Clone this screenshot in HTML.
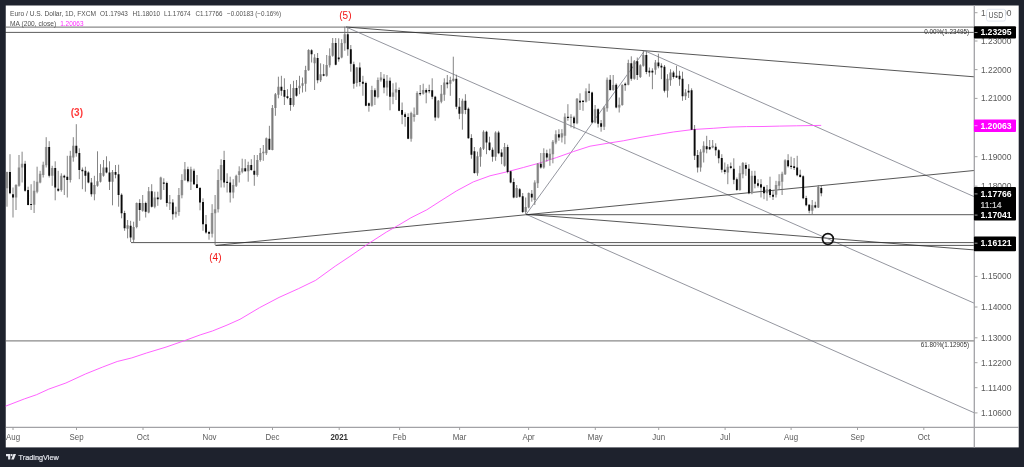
<!DOCTYPE html>
<html lang="en"><head><meta charset="utf-8"><title>EURUSD chart</title>
<style>html,body{margin:0;padding:0;background:#1e222d;overflow:hidden}svg{display:block;will-change:transform}text{font-family:"Liberation Sans", "DejaVu Sans", sans-serif}</style></head><body>
<svg width="1024" height="467" viewBox="0 0 1024 467">
<rect x="0" y="0" width="1024" height="467" fill="#1e222d"/>
<rect x="5.5" y="5.5" width="1013.2" height="441.9" fill="#ffffff"/>
<defs><clipPath id="pane"><rect x="5" y="5" width="969" height="422"/></clipPath></defs>
<g clip-path="url(#pane)">
<line x1="5" x2="974" y1="27.1" y2="27.1" stroke="#8a8a8a" stroke-width="1.3"/>
<line x1="5" x2="974" y1="340.8" y2="340.8" stroke="#8a8a8a" stroke-width="1.3"/>
<line x1="5" x2="974" y1="32.4" y2="32.4" stroke="#333" stroke-width="0.8"/>
<line x1="346.0" y1="27.0" x2="974.0" y2="76.8" stroke="#2c2c2c" stroke-width="0.80"/>
<line x1="526.2" y1="214.3" x2="974.0" y2="249.9" stroke="#2c2c2c" stroke-width="0.80"/>
<line x1="346.0" y1="27.0" x2="974.0" y2="303.1" stroke="#787b86" stroke-width="0.80"/>
<line x1="644.6" y1="50.7" x2="974.0" y2="196.6" stroke="#787b86" stroke-width="0.80"/>
<line x1="526.2" y1="214.3" x2="974.0" y2="412.7" stroke="#787b86" stroke-width="0.80"/>
<line x1="526.2" y1="214.3" x2="644.6" y2="50.7" stroke="#787b86" stroke-width="0.80"/>
<line x1="215.6" y1="245.4" x2="974.0" y2="170.5" stroke="#2c2c2c" stroke-width="0.80"/>
<line x1="526.2" y1="214.7" x2="974.0" y2="214.7" stroke="#2c2c2c" stroke-width="0.80"/>
<line x1="131.0" y1="242.6" x2="974.0" y2="242.6" stroke="#2c2c2c" stroke-width="0.80"/>
<line x1="215.6" y1="245.4" x2="974.0" y2="245.4" stroke="#2c2c2c" stroke-width="0.80"/>
<polyline fill="none" stroke="#ff50ff" stroke-width="0.9" points="5.0,406.4 24.4,398.9 36.6,394.7 48.8,389.1 65.9,383.0 85.4,374.0 102.5,367.1 117.2,361.5 131.8,357.9 146.5,353.0 166.0,347.1 185.5,340.3 200.2,334.9 212.4,331.0 227.0,325.1 240.0,319.3 259.5,307.7 279.1,297.4 298.6,288.6 315.7,280.3 335.2,266.2 349.9,256.4 369.4,243.0 386.5,232.0 398.7,225.1 410.9,217.8 426.8,209.8 440.0,201.3 456.7,190.8 473.3,181.9 490.0,175.8 507.5,171.7 523.3,167.5 540.0,162.9 556.7,157.5 573.3,151.6 590.0,146.2 609.2,143.0 623.3,140.8 640.0,137.5 656.7,134.7 673.3,132.0 693.0,129.5 713.2,128.3 729.8,127.1 746.4,126.6 763.0,126.5 779.7,126.1 796.3,125.8 821.2,125.4"/>
<path d="M5.67 172.0h2.6V188.3h-2.6ZM14.72 185.0h2.6V197.5h-2.6ZM17.73 167.5h2.6V185.8h-2.6ZM20.75 163.7h2.6V167.5h-2.6ZM32.81 190.8h2.6V204.7h-2.6ZM35.83 181.7h2.6V191.7h-2.6ZM38.84 173.7h2.6V182.5h-2.6ZM41.86 164.7h2.6V175.0h-2.6ZM44.88 147.0h2.6V165.3h-2.6ZM50.91 168.0h2.6V175.8h-2.6ZM59.96 175.8h2.6V190.0h-2.6ZM69.00 155.8h2.6V180.0h-2.6ZM72.02 145.8h2.6V157.5h-2.6ZM93.13 185.0h2.6V194.2h-2.6ZM96.15 181.3h2.6V185.8h-2.6ZM99.16 173.0h2.6V181.7h-2.6ZM102.18 167.5h2.6V175.8h-2.6ZM111.23 172.0h2.6V181.7h-2.6ZM126.31 225.3h2.6V228.7h-2.6ZM132.34 227.0h2.6V239.7h-2.6ZM135.36 203.0h2.6V227.0h-2.6ZM141.39 203.0h2.6V210.8h-2.6ZM147.42 191.3h2.6V212.5h-2.6ZM153.45 197.5h2.6V206.7h-2.6ZM159.48 177.5h2.6V199.2h-2.6ZM168.53 202.0h2.6V203.7h-2.6ZM174.56 211.7h2.6V214.2h-2.6ZM177.58 195.0h2.6V212.0h-2.6ZM180.60 180.0h2.6V195.3h-2.6ZM183.61 169.2h2.6V180.3h-2.6ZM189.64 169.2h2.6V181.7h-2.6ZM210.76 213.0h2.6V233.7h-2.6ZM213.77 209.2h2.6V213.3h-2.6ZM216.79 180.0h2.6V209.2h-2.6ZM219.80 165.0h2.6V180.3h-2.6ZM231.87 185.0h2.6V192.5h-2.6ZM234.88 175.8h2.6V185.8h-2.6ZM237.90 171.3h2.6V175.0h-2.6ZM240.92 168.3h2.6V171.7h-2.6ZM246.95 165.0h2.6V171.3h-2.6ZM256.00 160.0h2.6V175.0h-2.6ZM259.01 153.0h2.6V160.0h-2.6ZM262.03 151.7h2.6V153.3h-2.6ZM265.04 138.3h2.6V153.3h-2.6ZM271.08 108.0h2.6V150.0h-2.6ZM274.09 94.2h2.6V108.0h-2.6ZM277.11 86.7h2.6V94.7h-2.6ZM292.19 88.0h2.6V105.0h-2.6ZM298.22 85.8h2.6V88.3h-2.6ZM301.24 83.3h2.6V85.8h-2.6ZM304.25 70.0h2.6V83.7h-2.6ZM307.27 50.0h2.6V70.3h-2.6ZM313.30 57.5h2.6V63.3h-2.6ZM319.33 74.2h2.6V80.3h-2.6ZM325.36 65.0h2.6V75.8h-2.6ZM328.38 55.8h2.6V65.3h-2.6ZM331.40 43.0h2.6V55.8h-2.6ZM340.44 43.0h2.6V57.5h-2.6ZM343.46 34.2h2.6V43.3h-2.6ZM355.52 67.5h2.6V83.0h-2.6ZM370.60 90.0h2.6V105.8h-2.6ZM376.64 80.0h2.6V97.0h-2.6ZM379.65 77.5h2.6V80.3h-2.6ZM385.68 80.8h2.6V87.5h-2.6ZM391.72 92.5h2.6V96.7h-2.6ZM394.73 89.2h2.6V92.5h-2.6ZM409.81 113.0h2.6V138.7h-2.6ZM412.83 114.2h2.6V117.0h-2.6ZM415.84 93.0h2.6V114.7h-2.6ZM421.88 90.0h2.6V93.7h-2.6ZM436.96 100.8h2.6V117.5h-2.6ZM439.97 93.7h2.6V101.7h-2.6ZM442.99 82.5h2.6V94.7h-2.6ZM449.02 80.0h2.6V83.7h-2.6ZM452.04 78.8h2.6V80.8h-2.6ZM461.08 100.8h2.6V113.7h-2.6ZM476.16 156.3h2.6V173.3h-2.6ZM479.18 148.3h2.6V156.7h-2.6ZM482.20 131.7h2.6V148.7h-2.6ZM494.26 132.5h2.6V156.7h-2.6ZM503.31 147.0h2.6V165.8h-2.6ZM515.37 188.0h2.6V197.5h-2.6ZM524.42 207.0h2.6V212.0h-2.6ZM527.44 193.0h2.6V207.5h-2.6ZM533.47 182.5h2.6V200.0h-2.6ZM536.48 163.7h2.6V183.3h-2.6ZM542.52 153.0h2.6V167.5h-2.6ZM548.55 153.7h2.6V160.0h-2.6ZM551.56 141.7h2.6V154.2h-2.6ZM554.58 134.2h2.6V142.5h-2.6ZM560.61 133.3h2.6V137.5h-2.6ZM563.63 116.7h2.6V135.8h-2.6ZM569.66 116.7h2.6V118.0h-2.6ZM575.69 98.7h2.6V123.3h-2.6ZM584.74 91.3h2.6V101.7h-2.6ZM593.79 109.2h2.6V122.5h-2.6ZM602.84 107.5h2.6V126.7h-2.6ZM605.85 79.7h2.6V108.3h-2.6ZM611.88 85.0h2.6V90.0h-2.6ZM617.92 104.7h2.6V107.5h-2.6ZM620.93 85.0h2.6V105.0h-2.6ZM626.96 63.0h2.6V84.7h-2.6ZM633.00 61.3h2.6V78.7h-2.6ZM639.03 65.3h2.6V77.0h-2.6ZM642.04 55.0h2.6V65.8h-2.6ZM654.11 62.5h2.6V69.7h-2.6ZM666.17 78.7h2.6V90.8h-2.6ZM669.19 72.5h2.6V80.3h-2.6ZM684.27 92.5h2.6V96.3h-2.6ZM699.35 151.7h2.6V167.5h-2.6ZM702.36 145.8h2.6V152.5h-2.6ZM711.41 145.8h2.6V147.5h-2.6ZM726.49 166.7h2.6V172.5h-2.6ZM738.56 173.3h2.6V190.0h-2.6ZM741.57 163.0h2.6V174.2h-2.6ZM750.62 175.8h2.6V193.3h-2.6ZM765.70 189.2h2.6V193.3h-2.6ZM774.75 185.0h2.6V194.7h-2.6ZM777.76 181.3h2.6V185.8h-2.6ZM780.78 173.7h2.6V181.7h-2.6ZM783.80 160.3h2.6V174.2h-2.6ZM810.94 205.3h2.6V210.8h-2.6ZM816.97 187.0h2.6V207.5h-2.6Z" fill="#a6a6a6"/>
<path d="M7.0 171.7V206.7M10.0 154.2V194.2M13.0 187.5V217.5M16.0 184.2V210.0M19.0 155.0V186.7M22.1 151.7V182.5M25.1 160.8V191.7M28.1 186.7V205.3M31.1 184.2V210.0M34.1 180.8V213.0M37.1 166.7V193.3M40.1 170.8V183.3M43.2 161.7V177.5M46.2 137.2V167.5M49.2 141.2V177.5M52.2 165.8V185.8M55.2 161.3V200.3M58.2 170.8V191.7M61.3 173.3V191.7M64.3 174.7V195.0M67.3 155.8V197.5M70.3 150.8V182.5M73.3 137.2V161.7M76.3 124.2V156.7M79.3 148.3V179.2M82.4 167.5V189.2M85.4 166.7V191.7M88.4 171.3V183.3M91.4 178.0V196.7M94.4 175.8V200.3M97.5 151.3V186.7M100.5 164.2V182.5M103.5 160.0V176.7M106.5 156.3V173.3M109.5 161.3V190.0M112.5 170.0V205.3M115.5 165.0V178.3M118.6 164.7V206.7M121.6 193.3V218.3M124.6 210.8V230.8M127.6 220.0V238.3M130.6 220.8V242.0M133.6 221.7V242.0M136.7 202.5V228.3M139.7 199.2V220.8M142.7 195.0V211.7M145.7 201.7V217.5M148.7 187.0V213.3M151.7 184.2V207.5M154.8 191.7V208.3M157.8 191.7V205.8M160.8 176.7V200.0M163.8 178.3V190.0M166.8 181.7V206.7M169.8 195.0V210.0M172.8 199.2V219.7M175.9 206.7V217.5M178.9 188.0V215.8M181.9 174.2V198.3M184.9 162.0V180.8M187.9 166.7V182.5M190.9 166.7V190.0M194.0 168.7V185.0M197.0 175.0V188.3M200.0 187.0V210.3M203.0 198.3V230.8M206.0 215.0V233.7M209.0 230.8V239.7M212.1 204.2V237.5M215.1 195.0V245.0M218.1 169.2V212.5M221.1 159.2V187.5M224.1 150.8V187.5M227.1 173.3V192.5M230.2 176.7V202.5M233.2 179.2V198.3M236.2 174.7V187.0M239.2 166.3V182.5M242.2 158.7V173.3M245.2 159.2V171.7M248.2 161.7V181.7M251.3 159.2V170.8M254.3 155.0V185.8M257.3 155.0V176.7M260.3 148.0V161.7M263.3 145.0V160.8M266.3 137.5V155.0M269.4 125.8V150.0M272.4 105.0V150.3M275.4 93.0V115.8M278.4 76.7V98.3M281.4 75.8V95.8M284.4 78.3V105.0M287.5 89.2V99.2M290.5 84.2V110.8M293.5 80.8V106.7M296.5 80.0V96.7M299.5 75.8V94.2M302.5 77.5V92.5M305.6 65.8V91.7M308.6 49.2V70.8M311.6 49.2V62.5M314.6 54.2V90.0M317.6 53.0V83.3M320.6 63.3V82.0M323.6 64.2V76.3M326.7 55.0V76.7M329.7 48.3V67.5M332.7 38.0V56.7M335.7 38.0V65.3M338.7 38.3V61.7M341.7 39.2V58.3M344.8 26.7V50.8M347.8 27.5V55.8M350.8 45.0V71.7M353.8 61.7V88.7M356.8 67.0V86.7M359.8 62.5V86.3M362.9 75.8V95.8M365.9 81.7V106.2M368.9 102.5V111.7M371.9 85.8V106.7M374.9 88.3V105.0M377.9 77.5V98.3M380.9 72.0V81.7M384.0 74.2V93.3M387.0 75.0V95.8M390.0 77.5V110.3M393.0 83.3V104.2M396.0 82.5V100.0M399.1 87.5V111.2M402.1 102.5V124.2M405.1 112.5V126.7M408.1 113.3V139.2M411.1 111.7V141.7M414.1 107.5V121.7M417.1 91.3V115.0M420.2 85.0V95.8M423.2 83.7V94.7M426.2 88.3V103.3M429.2 84.7V93.3M432.2 78.3V99.2M435.2 95.8V120.8M438.3 100.0V118.3M441.3 85.0V103.3M444.3 78.3V100.8M447.3 75.0V88.3M450.3 76.7V95.8M453.3 56.7V81.7M456.4 74.7V109.2M459.4 98.0V119.2M462.4 98.7V129.7M465.4 94.2V114.2M468.4 107.5V138.7M471.4 134.2V158.7M474.4 147.0V173.7M477.5 151.7V175.8M480.5 147.0V166.7M483.5 130.3V150.0M486.5 130.8V154.2M489.5 136.7V150.8M492.5 147.5V161.7M495.6 131.3V160.8M498.6 130.8V154.2M501.6 149.2V164.2M504.6 143.0V166.7M507.6 144.7V173.3M510.6 170.8V183.3M513.7 178.3V198.3M516.7 185.0V198.0M519.7 188.0V197.5M522.7 193.0V213.0M525.7 197.5V214.2M528.7 192.5V208.3M531.8 190.0V201.7M534.8 180.3V205.0M537.8 163.0V188.0M540.8 153.0V168.7M543.8 148.3V168.7M546.8 149.7V161.7M549.9 148.7V165.8M552.9 140.0V163.3M555.9 130.3V144.2M558.9 129.2V140.8M561.9 129.2V142.5M564.9 113.3V144.2M567.9 104.2V120.8M571.0 114.2V127.5M574.0 115.8V128.7M577.0 98.0V124.2M580.0 93.3V110.0M583.0 100.0V110.8M586.0 88.3V102.5M589.1 83.7V100.8M592.1 91.7V123.3M595.1 105.0V123.3M598.1 108.3V127.5M601.1 120.0V131.7M604.1 106.3V130.0M607.1 77.5V111.7M610.2 75.0V90.8M613.2 75.0V90.8M616.2 83.3V108.3M619.2 97.5V112.5M622.2 84.2V105.8M625.2 82.5V90.8M628.3 59.7V85.3M631.3 56.3V80.8M634.3 60.0V79.7M637.3 57.5V80.0M640.3 64.2V78.0M643.3 50.8V66.7M646.4 51.7V74.2M649.4 67.5V76.7M652.4 68.3V89.2M655.4 60.0V74.7M658.4 53.7V68.3M661.4 63.3V79.2M664.5 65.0V92.5M667.5 74.2V97.5M670.5 69.2V85.8M673.5 70.8V78.7M676.5 65.8V78.0M679.5 70.8V85.8M682.5 71.7V100.8M685.6 89.2V100.0M688.6 84.2V98.0M691.6 88.3V130.0M694.6 125.0V160.0M697.6 150.0V172.5M700.6 149.2V171.7M703.7 141.3V162.5M706.7 135.8V153.3M709.7 140.0V150.0M712.7 140.0V148.3M715.7 143.3V155.8M718.7 149.2V163.3M721.8 154.2V172.5M724.8 162.5V174.2M727.8 164.2V184.2M730.8 162.5V169.2M733.8 158.3V184.2M736.8 177.5V190.8M739.9 165.8V190.8M742.9 162.0V178.3M745.9 162.5V175.8M748.9 164.2V194.2M751.9 170.8V194.2M754.9 170.8V188.3M758.0 179.2V187.5M761.0 179.2V197.5M764.0 185.8V199.2M767.0 185.0V200.8M770.0 176.7V197.5M773.0 190.0V200.0M776.0 180.8V197.5M779.1 174.2V190.0M782.1 171.7V195.0M785.1 159.2V175.0M788.1 154.2V167.5M791.1 156.7V169.2M794.1 158.0V170.0M797.2 155.8V176.3M800.2 169.7V177.5M803.2 175.3V199.2M806.2 195.8V206.3M809.2 204.2V213.3M812.2 200.0V214.2M815.3 201.7V208.3M818.3 185.0V208.0M821.3 185.8V196.3" stroke="#6e6e6e" stroke-width="0.85" fill="none"/>
<path d="M9.03 172.0h1.9V193.3h-1.9ZM12.05 194.2h1.9V197.5h-1.9ZM24.11 163.7h1.9V190.8h-1.9ZM27.13 190.0h1.9V205.0h-1.9ZM30.15 204.0h1.9V205.0h-1.9ZM48.24 147.0h1.9V175.8h-1.9ZM54.27 168.0h1.9V187.5h-1.9ZM57.29 188.7h1.9V190.8h-1.9ZM63.32 175.8h1.9V177.5h-1.9ZM66.34 176.7h1.9V180.0h-1.9ZM75.39 145.8h1.9V153.3h-1.9ZM78.40 153.0h1.9V170.0h-1.9ZM81.42 169.7h1.9V171.3h-1.9ZM84.43 170.8h1.9V175.8h-1.9ZM87.45 172.5h1.9V182.5h-1.9ZM90.47 182.5h1.9V194.2h-1.9ZM105.55 167.5h1.9V172.5h-1.9ZM108.56 172.5h1.9V181.7h-1.9ZM114.59 172.0h1.9V174.7h-1.9ZM117.61 174.2h1.9V195.0h-1.9ZM120.63 194.7h1.9V213.3h-1.9ZM123.64 213.0h1.9V228.3h-1.9ZM129.67 225.8h1.9V237.5h-1.9ZM138.72 203.0h1.9V210.0h-1.9ZM144.75 203.0h1.9V211.7h-1.9ZM150.79 191.3h1.9V206.7h-1.9ZM156.82 197.5h1.9V199.2h-1.9ZM162.85 182.5h1.9V183.8h-1.9ZM165.87 183.0h1.9V203.0h-1.9ZM171.90 202.5h1.9V214.2h-1.9ZM186.98 169.2h1.9V181.2h-1.9ZM193.01 170.8h1.9V184.2h-1.9ZM196.03 184.2h1.9V188.0h-1.9ZM199.04 188.0h1.9V202.5h-1.9ZM202.06 202.0h1.9V224.2h-1.9ZM205.07 224.2h1.9V232.5h-1.9ZM208.09 232.0h1.9V233.7h-1.9ZM223.17 160.0h1.9V182.5h-1.9ZM226.19 181.7h1.9V183.0h-1.9ZM229.20 182.5h1.9V192.5h-1.9ZM244.28 168.3h1.9V171.3h-1.9ZM250.31 165.0h1.9V170.0h-1.9ZM253.33 170.8h1.9V174.7h-1.9ZM268.41 138.7h1.9V149.7h-1.9ZM280.47 86.7h1.9V90.8h-1.9ZM283.49 90.0h1.9V96.7h-1.9ZM286.51 96.3h1.9V98.0h-1.9ZM289.52 98.0h1.9V105.0h-1.9ZM295.55 88.0h1.9V95.8h-1.9ZM310.63 50.3h1.9V54.2h-1.9ZM316.67 58.0h1.9V80.3h-1.9ZM322.70 74.2h1.9V75.8h-1.9ZM334.76 43.0h1.9V64.7h-1.9ZM337.78 57.5h1.9V59.2h-1.9ZM346.83 34.2h1.9V49.2h-1.9ZM349.84 49.2h1.9V63.7h-1.9ZM352.86 64.2h1.9V83.7h-1.9ZM358.89 67.5h1.9V82.0h-1.9ZM361.91 81.7h1.9V83.7h-1.9ZM364.92 83.0h1.9V105.8h-1.9ZM367.94 103.3h1.9V105.8h-1.9ZM373.97 90.3h1.9V96.7h-1.9ZM383.02 78.7h1.9V87.5h-1.9ZM389.05 80.8h1.9V96.7h-1.9ZM398.10 90.0h1.9V110.8h-1.9ZM401.11 110.0h1.9V114.7h-1.9ZM404.13 114.2h1.9V117.0h-1.9ZM407.15 117.0h1.9V138.7h-1.9ZM419.21 93.0h1.9V94.2h-1.9ZM425.24 90.0h1.9V92.5h-1.9ZM428.26 90.0h1.9V91.3h-1.9ZM431.27 90.3h1.9V96.7h-1.9ZM434.29 96.7h1.9V117.5h-1.9ZM446.35 82.5h1.9V84.2h-1.9ZM455.40 78.8h1.9V106.7h-1.9ZM458.42 106.7h1.9V113.7h-1.9ZM464.45 100.8h1.9V110.0h-1.9ZM467.47 108.7h1.9V138.3h-1.9ZM470.48 138.0h1.9V154.7h-1.9ZM473.50 151.3h1.9V173.0h-1.9ZM485.56 131.7h1.9V142.5h-1.9ZM488.58 142.5h1.9V150.0h-1.9ZM491.59 149.7h1.9V156.7h-1.9ZM497.63 132.5h1.9V153.3h-1.9ZM500.64 152.5h1.9V156.7h-1.9ZM506.67 147.0h1.9V172.0h-1.9ZM509.69 171.3h1.9V182.5h-1.9ZM512.71 182.0h1.9V197.5h-1.9ZM518.74 189.2h1.9V196.7h-1.9ZM521.75 196.3h1.9V212.0h-1.9ZM530.80 193.7h1.9V197.5h-1.9ZM539.85 163.7h1.9V167.5h-1.9ZM545.88 153.3h1.9V157.5h-1.9ZM557.95 134.2h1.9V137.5h-1.9ZM566.99 116.7h1.9V118.0h-1.9ZM573.03 117.5h1.9V123.3h-1.9ZM579.06 100.8h1.9V102.5h-1.9ZM582.07 100.8h1.9V102.0h-1.9ZM588.11 91.3h1.9V93.0h-1.9ZM591.12 92.5h1.9V122.5h-1.9ZM597.15 109.2h1.9V123.7h-1.9ZM600.17 123.3h1.9V126.7h-1.9ZM609.22 79.7h1.9V90.0h-1.9ZM615.25 84.7h1.9V107.5h-1.9ZM624.30 83.7h1.9V85.3h-1.9ZM630.33 63.3h1.9V78.7h-1.9ZM636.36 61.3h1.9V75.0h-1.9ZM645.41 55.0h1.9V72.0h-1.9ZM648.43 70.8h1.9V72.5h-1.9ZM651.44 70.8h1.9V72.5h-1.9ZM657.47 62.5h1.9V66.3h-1.9ZM660.49 65.8h1.9V67.5h-1.9ZM663.51 66.7h1.9V90.8h-1.9ZM672.55 72.5h1.9V77.0h-1.9ZM675.57 75.8h1.9V77.5h-1.9ZM678.59 75.8h1.9V79.2h-1.9ZM681.60 78.7h1.9V96.3h-1.9ZM687.63 90.8h1.9V92.5h-1.9ZM690.65 90.3h1.9V129.7h-1.9ZM693.67 129.2h1.9V155.8h-1.9ZM696.68 155.0h1.9V167.5h-1.9ZM705.73 146.3h1.9V149.2h-1.9ZM708.75 147.0h1.9V149.2h-1.9ZM714.78 146.7h1.9V150.3h-1.9ZM717.79 150.3h1.9V158.3h-1.9ZM720.81 158.0h1.9V169.7h-1.9ZM723.83 169.7h1.9V172.0h-1.9ZM729.86 166.3h1.9V168.0h-1.9ZM732.87 168.7h1.9V179.7h-1.9ZM735.89 179.2h1.9V190.0h-1.9ZM744.94 165.0h1.9V168.7h-1.9ZM747.95 168.7h1.9V193.3h-1.9ZM753.99 175.8h1.9V183.7h-1.9ZM757.00 183.3h1.9V185.8h-1.9ZM760.02 184.2h1.9V187.5h-1.9ZM763.03 187.0h1.9V193.3h-1.9ZM769.07 189.2h1.9V195.0h-1.9ZM772.08 194.7h1.9V196.7h-1.9ZM787.16 160.3h1.9V166.3h-1.9ZM790.18 165.8h1.9V167.0h-1.9ZM793.19 166.3h1.9V168.0h-1.9ZM796.21 167.5h1.9V175.3h-1.9ZM799.23 174.7h1.9V177.0h-1.9ZM802.24 176.3h1.9V198.3h-1.9ZM805.26 198.0h1.9V205.3h-1.9ZM808.27 204.7h1.9V210.8h-1.9ZM814.31 205.3h1.9V207.5h-1.9ZM820.34 188.0h1.9V193.3h-1.9Z" fill="#0a0a0a"/>
<circle cx="827.9" cy="239.0" r="5.4" fill="none" stroke="#111" stroke-width="1.7"/>
<text x="76.9" y="116.3" font-size="10" fill="#ff3b3b" text-anchor="middle" font-weight="bold">(3)</text>
<text x="215.4" y="261" font-size="10" fill="#f21313" text-anchor="middle">(4)</text>
<text x="345.4" y="19.1" font-size="10" fill="#f21313" text-anchor="middle">(5)</text>
<text x="969" y="33.6" font-size="6.3" fill="#333" text-anchor="end">0.00%(1.23495)</text>
<text x="969" y="347.3" font-size="6.3" fill="#333" text-anchor="end">61.80%(1.12905)</text>
<text y="16" font-size="6.7" fill="#505050"><tspan x="10.1" textLength="86" lengthAdjust="spacingAndGlyphs">Euro / U.S. Dollar, 1D, FXCM</tspan><tspan x="99.9" textLength="28" lengthAdjust="spacingAndGlyphs">O1.17943</tspan><tspan x="132.4" textLength="27.6" lengthAdjust="spacingAndGlyphs">H1.18010</tspan><tspan x="164" textLength="26.6" lengthAdjust="spacingAndGlyphs">L1.17674</tspan><tspan x="195.4" textLength="27" lengthAdjust="spacingAndGlyphs">C1.17766</tspan><tspan x="227" textLength="54" lengthAdjust="spacingAndGlyphs">−0.00183 (−0.16%)</tspan></text>
<text y="25.6" font-size="6.7" fill="#505050"><tspan x="10.1" textLength="46" lengthAdjust="spacingAndGlyphs">MA (200, close)</tspan><tspan x="60.2" fill="#ff2bff" textLength="23.3" lengthAdjust="spacingAndGlyphs">1.20063</tspan></text>
</g>
<line x1="974.3" x2="974.3" y1="5.5" y2="447.4" stroke="#a2a2a6" stroke-width="1.3"/>
<line x1="5.5" x2="1018.7" y1="427.4" y2="427.4" stroke="#a2a2a6" stroke-width="1.3"/>
<line x1="974.8" x2="977.5" y1="12.7" y2="12.7" stroke="#8c8c8c" stroke-width="0.8"/>
<text x="980.9" y="15.7" font-size="8.4" fill="#5a5a5a" textLength="30.6" lengthAdjust="spacingAndGlyphs">1.24000</text>
<line x1="974.8" x2="977.5" y1="41.0" y2="41.0" stroke="#8c8c8c" stroke-width="0.8"/>
<text x="980.9" y="44.0" font-size="8.4" fill="#5a5a5a" textLength="30.6" lengthAdjust="spacingAndGlyphs">1.23000</text>
<line x1="974.8" x2="977.5" y1="69.6" y2="69.6" stroke="#8c8c8c" stroke-width="0.8"/>
<text x="980.9" y="72.6" font-size="8.4" fill="#5a5a5a" textLength="30.6" lengthAdjust="spacingAndGlyphs">1.22000</text>
<line x1="974.8" x2="977.5" y1="98.4" y2="98.4" stroke="#8c8c8c" stroke-width="0.8"/>
<text x="980.9" y="101.4" font-size="8.4" fill="#5a5a5a" textLength="30.6" lengthAdjust="spacingAndGlyphs">1.21000</text>
<line x1="974.8" x2="977.5" y1="156.7" y2="156.7" stroke="#8c8c8c" stroke-width="0.8"/>
<text x="980.9" y="159.7" font-size="8.4" fill="#5a5a5a" textLength="30.6" lengthAdjust="spacingAndGlyphs">1.19000</text>
<line x1="974.8" x2="977.5" y1="186.2" y2="186.2" stroke="#8c8c8c" stroke-width="0.8"/>
<text x="980.9" y="189.2" font-size="8.4" fill="#5a5a5a" textLength="30.6" lengthAdjust="spacingAndGlyphs">1.18000</text>
<line x1="974.8" x2="977.5" y1="276.4" y2="276.4" stroke="#8c8c8c" stroke-width="0.8"/>
<text x="980.9" y="279.4" font-size="8.4" fill="#5a5a5a" textLength="30.6" lengthAdjust="spacingAndGlyphs">1.15000</text>
<line x1="974.8" x2="977.5" y1="307.0" y2="307.0" stroke="#8c8c8c" stroke-width="0.8"/>
<text x="980.9" y="310.0" font-size="8.4" fill="#5a5a5a" textLength="30.6" lengthAdjust="spacingAndGlyphs">1.14000</text>
<line x1="974.8" x2="977.5" y1="337.8" y2="337.8" stroke="#8c8c8c" stroke-width="0.8"/>
<text x="980.9" y="340.8" font-size="8.4" fill="#5a5a5a" textLength="30.6" lengthAdjust="spacingAndGlyphs">1.13000</text>
<line x1="974.8" x2="977.5" y1="362.7" y2="362.7" stroke="#8c8c8c" stroke-width="0.8"/>
<text x="980.9" y="365.7" font-size="8.4" fill="#5a5a5a" textLength="30.6" lengthAdjust="spacingAndGlyphs">1.12200</text>
<line x1="974.8" x2="977.5" y1="387.7" y2="387.7" stroke="#8c8c8c" stroke-width="0.8"/>
<text x="980.9" y="390.7" font-size="8.4" fill="#5a5a5a" textLength="30.6" lengthAdjust="spacingAndGlyphs">1.11400</text>
<line x1="974.8" x2="977.5" y1="412.9" y2="412.9" stroke="#8c8c8c" stroke-width="0.8"/>
<text x="980.9" y="415.9" font-size="8.4" fill="#5a5a5a" textLength="30.6" lengthAdjust="spacingAndGlyphs">1.10600</text>
<rect x="986.5" y="9.3" width="19" height="11.8" rx="2" fill="#fff" stroke="#d6dcea" stroke-width="0.7"/>
<text x="988.6" y="18.4" font-size="8.2" fill="#555" textLength="14.6" lengthAdjust="spacingAndGlyphs">USD</text>
<rect x="973.9" y="26.2" width="42.1" height="12.4" rx="1" fill="#000"/>
<line x1="974.6" x2="977.5" y1="32.5" y2="32.5" stroke="#fff" stroke-width="0.6"/>
<text x="980.4" y="35.4" font-size="8.3" fill="#fff" font-weight="bold" textLength="31.2" lengthAdjust="spacingAndGlyphs">1.23295</text>
<rect x="973.9" y="119.6" width="42.1" height="12.4" rx="1" fill="#ff00ff"/>
<line x1="974.6" x2="977.5" y1="125.7" y2="125.7" stroke="#fff" stroke-width="0.6"/>
<text x="980.4" y="128.6" font-size="8.3" fill="#fff" font-weight="bold" textLength="31.2" lengthAdjust="spacingAndGlyphs">1.20063</text>
<rect x="973.9" y="187.1" width="42.1" height="33.4" rx="1" fill="#000"/>
<line x1="974.6" x2="977.5" y1="193.9" y2="193.9" stroke="#fff" stroke-width="0.6"/>
<text x="980.4" y="196.8" font-size="8.3" fill="#fff" font-weight="bold" textLength="31.2" lengthAdjust="spacingAndGlyphs">1.17766</text>
<line x1="974.6" x2="977.5" y1="215.1" y2="215.1" stroke="#fff" stroke-width="0.6"/>
<text x="980.4" y="218.0" font-size="8.3" fill="#fff" font-weight="bold" textLength="31.2" lengthAdjust="spacingAndGlyphs">1.17041</text>
<text x="980.6" y="207.5" font-size="8.3" fill="#d8d8d8" stroke="#d8d8d8" stroke-width="0.2" textLength="21" lengthAdjust="spacingAndGlyphs">11:14</text>
<rect x="973.9" y="236.5" width="42.1" height="14.8" rx="1" fill="#000"/>
<line x1="974.6" x2="977.5" y1="243.2" y2="243.2" stroke="#fff" stroke-width="0.6"/>
<text x="980.4" y="246.1" font-size="8.3" fill="#fff" font-weight="bold" textLength="31.2" lengthAdjust="spacingAndGlyphs">1.16121</text>
<line x1="13.0" x2="13.0" y1="427.8" y2="430" stroke="#8c8c8c" stroke-width="0.8"/>
<text transform="translate(13.0,440.3) scale(0.92,1)" font-size="8.6" fill="#5a5a5a" text-anchor="middle">Aug</text>
<line x1="76.5" x2="76.5" y1="427.8" y2="430" stroke="#8c8c8c" stroke-width="0.8"/>
<text transform="translate(76.5,440.3) scale(0.92,1)" font-size="8.6" fill="#5a5a5a" text-anchor="middle">Sep</text>
<line x1="143.0" x2="143.0" y1="427.8" y2="430" stroke="#8c8c8c" stroke-width="0.8"/>
<text transform="translate(143.0,440.3) scale(0.92,1)" font-size="8.6" fill="#5a5a5a" text-anchor="middle">Oct</text>
<line x1="209.5" x2="209.5" y1="427.8" y2="430" stroke="#8c8c8c" stroke-width="0.8"/>
<text transform="translate(209.5,440.3) scale(0.92,1)" font-size="8.6" fill="#5a5a5a" text-anchor="middle">Nov</text>
<line x1="272.5" x2="272.5" y1="427.8" y2="430" stroke="#8c8c8c" stroke-width="0.8"/>
<text transform="translate(272.5,440.3) scale(0.92,1)" font-size="8.6" fill="#5a5a5a" text-anchor="middle">Dec</text>
<line x1="339.2" x2="339.2" y1="427.8" y2="430" stroke="#8c8c8c" stroke-width="0.8"/>
<text transform="translate(339.2,440.3) scale(0.92,1)" font-size="8.6" fill="#333" text-anchor="middle" font-weight="bold">2021</text>
<line x1="399.6" x2="399.6" y1="427.8" y2="430" stroke="#8c8c8c" stroke-width="0.8"/>
<text transform="translate(399.6,440.3) scale(0.92,1)" font-size="8.6" fill="#5a5a5a" text-anchor="middle">Feb</text>
<line x1="459.6" x2="459.6" y1="427.8" y2="430" stroke="#8c8c8c" stroke-width="0.8"/>
<text transform="translate(459.6,440.3) scale(0.92,1)" font-size="8.6" fill="#5a5a5a" text-anchor="middle">Mar</text>
<line x1="528.6" x2="528.6" y1="427.8" y2="430" stroke="#8c8c8c" stroke-width="0.8"/>
<text transform="translate(528.6,440.3) scale(0.92,1)" font-size="8.6" fill="#5a5a5a" text-anchor="middle">Apr</text>
<line x1="595.3" x2="595.3" y1="427.8" y2="430" stroke="#8c8c8c" stroke-width="0.8"/>
<text transform="translate(595.3,440.3) scale(0.92,1)" font-size="8.6" fill="#5a5a5a" text-anchor="middle">May</text>
<line x1="658.7" x2="658.7" y1="427.8" y2="430" stroke="#8c8c8c" stroke-width="0.8"/>
<text transform="translate(658.7,440.3) scale(0.92,1)" font-size="8.6" fill="#5a5a5a" text-anchor="middle">Jun</text>
<line x1="725.1" x2="725.1" y1="427.8" y2="430" stroke="#8c8c8c" stroke-width="0.8"/>
<text transform="translate(725.1,440.3) scale(0.92,1)" font-size="8.6" fill="#5a5a5a" text-anchor="middle">Jul</text>
<line x1="791.1" x2="791.1" y1="427.8" y2="430" stroke="#8c8c8c" stroke-width="0.8"/>
<text transform="translate(791.1,440.3) scale(0.92,1)" font-size="8.6" fill="#5a5a5a" text-anchor="middle">Aug</text>
<line x1="857.5" x2="857.5" y1="427.8" y2="430" stroke="#8c8c8c" stroke-width="0.8"/>
<text transform="translate(857.5,440.3) scale(0.92,1)" font-size="8.6" fill="#5a5a5a" text-anchor="middle">Sep</text>
<line x1="923.8" x2="923.8" y1="427.8" y2="430" stroke="#8c8c8c" stroke-width="0.8"/>
<text transform="translate(923.8,440.3) scale(0.92,1)" font-size="8.6" fill="#5a5a5a" text-anchor="middle">Oct</text>
<rect x="0" y="0" width="5.5" height="467" fill="#1e222d"/>
<g fill="#e6e8ee"><path d="M6 454h4.3v5.4h-2.2v-3.2H6z"/><circle cx="11.6" cy="455.1" r="1.1"/><path d="M13.4 454h2.6l-2.2 5.4h-2.6z"/></g>
<text x="18.6" y="459.6" font-size="7.8" fill="#dfe1e8" stroke="#dfe1e8" stroke-width="0.22" textLength="40.2" lengthAdjust="spacingAndGlyphs">TradingView</text>
</svg></body></html>
